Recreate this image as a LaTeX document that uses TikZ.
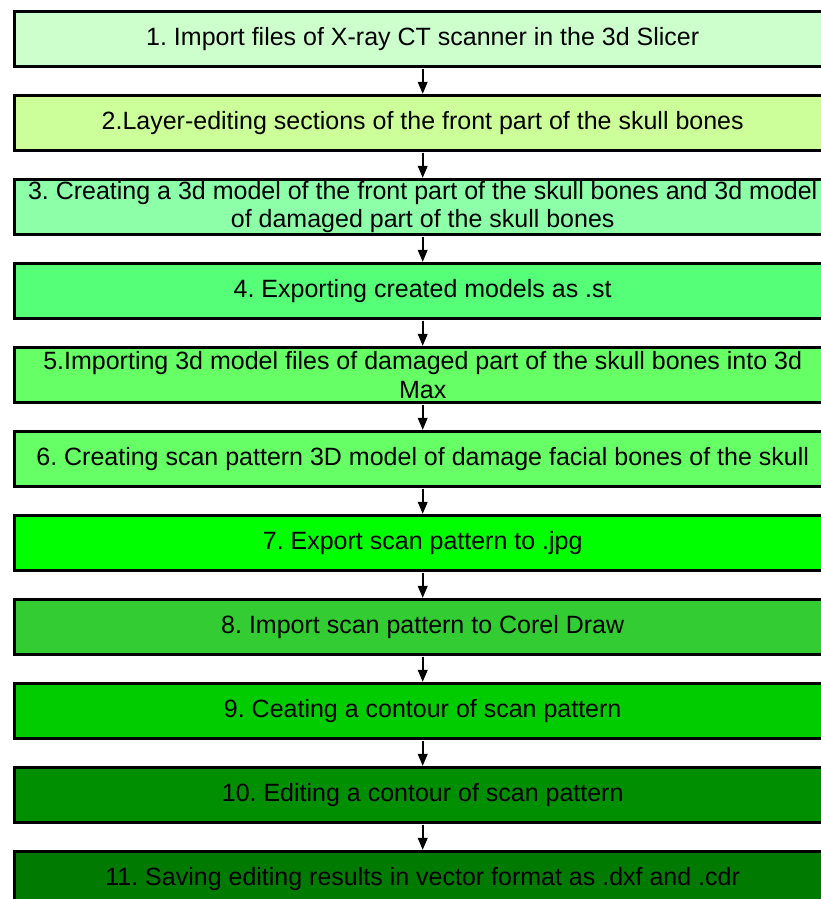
\documentclass[tikz,border=0pt]{standalone}
\usepackage{fontspec}
\setmainfont{Liberation Sans}
\frenchspacing
\usetikzlibrary{arrows.meta}
\definecolor{c1}{HTML}{CCFFCC}
\definecolor{c2}{HTML}{CCFF99}
\definecolor{c3}{HTML}{8CFFA8}
\definecolor{c4}{HTML}{55FF78}
\definecolor{c5}{HTML}{66FF66}
\definecolor{c6}{HTML}{66FF66}
\definecolor{c7}{HTML}{00FF00}
\definecolor{c8}{HTML}{33CC33}
\definecolor{c9}{HTML}{00CC00}
\definecolor{c10}{HTML}{008F00}
\definecolor{c11}{HTML}{007A00}
\tikzset{
  stepbox/.style={draw=black, line width=2.7pt, rectangle, minimum width=815.8pt,
    minimum height=54.5pt, inner sep=0pt, align=center,
    font=\frenchspacing\fontsize{25}{28.5}\selectfont},
  flowarrow/.style={line width=2pt, -{Triangle[length=12pt,width=9.5pt]}, shorten <=1pt, shorten >=0.5pt}
}
\begin{document}
\begin{tikzpicture}[x=1pt,y=-1pt]
\useasboundingbox (0,0) rectangle (821,899);
\clip (0,0) rectangle (821,899);
\node[stepbox, fill=c1] (b1) at (422.7,39) {1. Import files of X-ray CT scanner in the 3d Slicer};
\node[stepbox, fill=c2] (b2) at (422.7,123) {2.Layer-editing sections of the front part of the skull bones};
\node[stepbox, fill=c3] (b3) at (422.7,207) {3. Creating a 3d model of the front part of the skull bones and 3d model\\of damaged part of the skull bones};
\node[stepbox, fill=c4] (b4) at (422.7,291) {4. Exporting created models as .st};
\node[stepbox, fill=c5] (b5) at (422.7,375) {5.Importing 3d model files of damaged part of the skull bones into 3d\\Max};
\node[stepbox, fill=c6] (b6) at (422.7,459) {6. Creating scan pattern 3D model of damage facial bones of the skull};
\node[stepbox, fill=c7] (b7) at (422.7,543) {7. Export scan pattern to .jpg};
\node[stepbox, fill=c8] (b8) at (422.7,627) {8. Import scan pattern to Corel Draw};
\node[stepbox, fill=c9] (b9) at (422.7,711) {9. Ceating a contour of scan pattern};
\node[stepbox, fill=c10] (b10) at (422.7,795) {10. Editing a contour of scan pattern};
\node[stepbox, fill=c11] (b11) at (422.7,879) {11. Saving editing results in vector format as .dxf and .cdr};
\foreach \a/\b in {b1/b2,b2/b3,b3/b4,b4/b5,b5/b6,b6/b7,b7/b8,b8/b9,b9/b10,b10/b11}
  \draw[flowarrow] (\a.south) -- (\b.north);
\end{tikzpicture}
\end{document}
